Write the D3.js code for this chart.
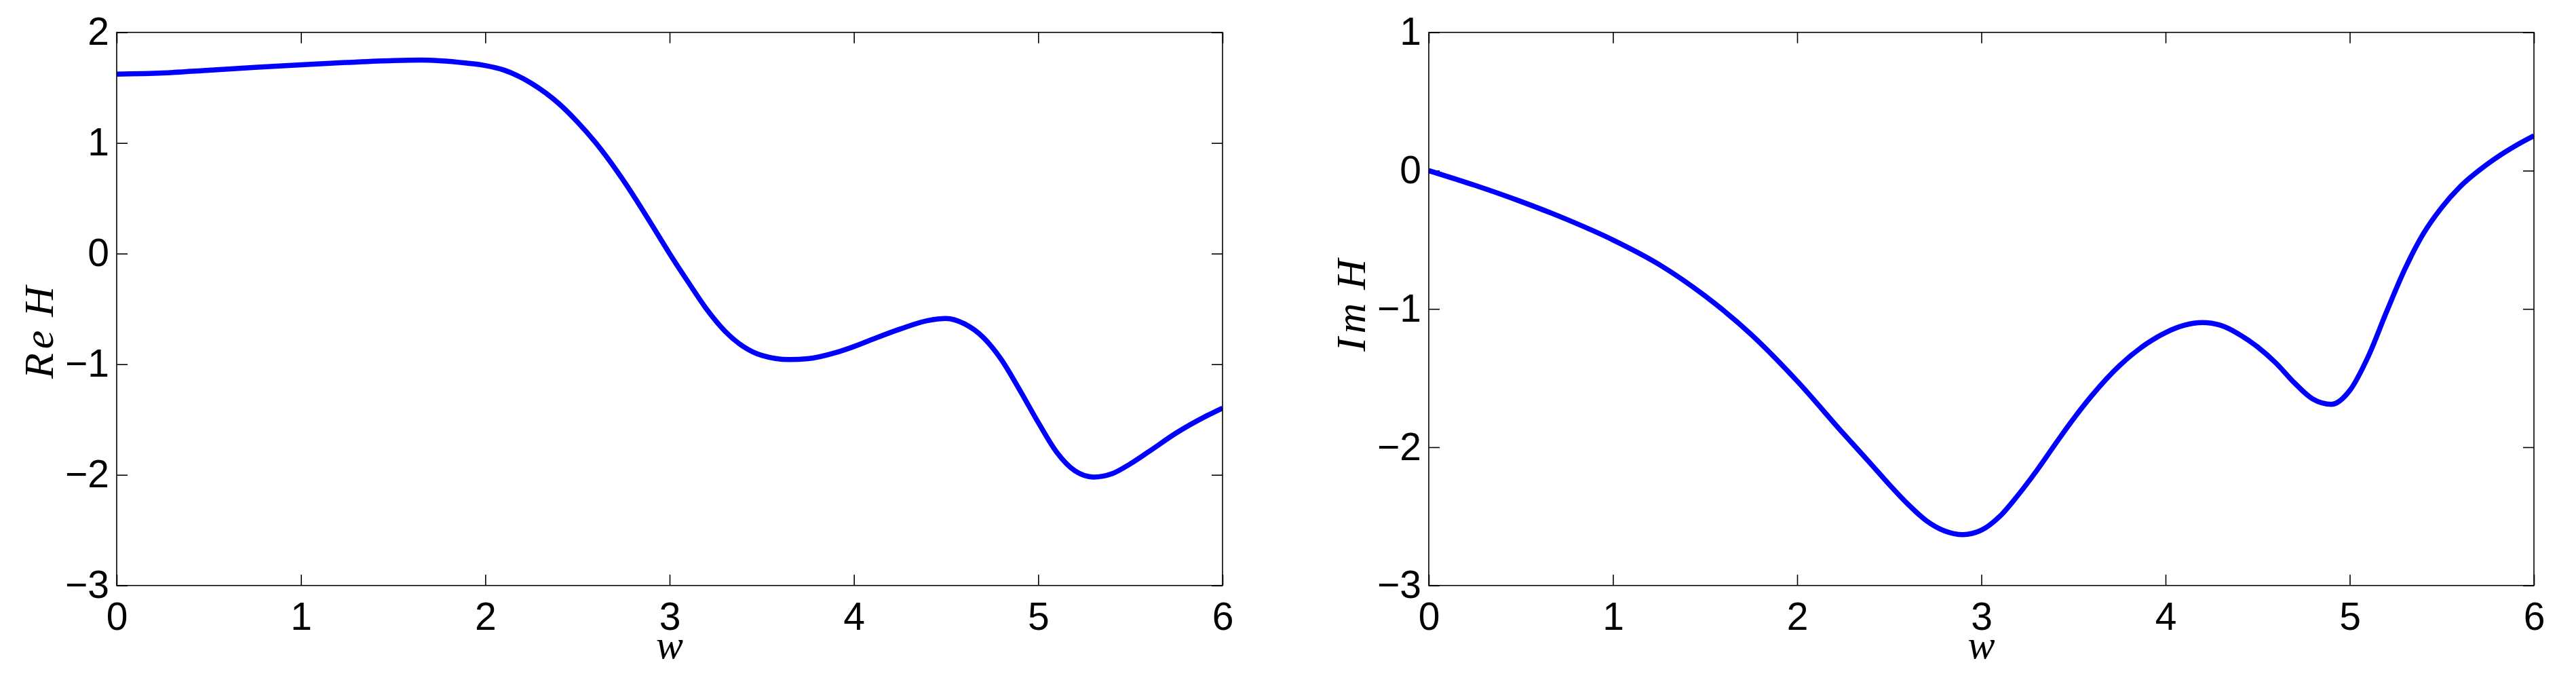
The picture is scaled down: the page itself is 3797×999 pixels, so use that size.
<!DOCTYPE html>
<html>
<head>
<meta charset="utf-8">
<script src="https://cdn.jsdelivr.net/npm/d3@7"></script>
<style>
  html, body { margin: 0; padding: 0; background: #fff; }
  svg { display: block; }
</style>
</head>
<body>
<svg id="chart" width="3797" height="999"></svg>
<script>
// ---- data ----
const wRe = [0, 0.25, 0.5, 0.75, 1.0, 1.25, 1.5, 1.65, 1.75, 1.9, 2.0, 2.1, 2.25, 2.4, 2.5, 2.6, 2.75, 2.9, 3.0,
             3.1, 3.2, 3.3, 3.4, 3.5, 3.65, 3.75, 3.9, 4.0, 4.1, 4.25, 4.4, 4.5, 4.6, 4.7, 4.8, 4.9, 5.0,
             5.1, 5.2, 5.3, 5.4, 5.5, 5.6, 5.75, 5.9, 6.0];
const reH = [1.623, 1.633, 1.658, 1.684, 1.707, 1.728, 1.745, 1.749, 1.744, 1.722, 1.70, 1.66, 1.54, 1.355, 1.19, 1.0, 0.66, 0.27, 0.0,
             -0.255, -0.50, -0.70, -0.84, -0.92, -0.958, -0.95, -0.895, -0.84, -0.775, -0.682, -0.605, -0.586, -0.635, -0.755, -0.958, -1.234, -1.526,
             -1.795, -1.965, -2.02, -1.99, -1.90, -1.79, -1.62, -1.478, -1.396];

const wIm = [0, 0.25, 0.5, 0.75, 1.0, 1.25, 1.5, 1.75, 2.0, 2.25, 2.4, 2.5, 2.6, 2.7, 2.8, 2.9, 3.0,
             3.1, 3.2, 3.3, 3.4, 3.5, 3.6, 3.75, 3.9, 4.0, 4.1, 4.2, 4.3, 4.4, 4.5, 4.6, 4.7, 4.8, 4.9, 5.0,
             5.1, 5.2, 5.3, 5.4, 5.5, 5.6, 5.75, 5.9, 6.0];
const imH = [0.0, -0.106, -0.223, -0.353, -0.501, -0.678, -0.906, -1.184, -1.522, -1.90, -2.12, -2.27, -2.41, -2.53, -2.605, -2.632, -2.60,
             -2.50, -2.345, -2.17, -1.98, -1.795, -1.626, -1.41, -1.249, -1.171, -1.119, -1.099, -1.119, -1.184, -1.275, -1.392, -1.535, -1.652, -1.69, -1.59,
             -1.345, -1.02, -0.71, -0.455, -0.265, -0.115, 0.05, 0.18, 0.252];

const xTicks = [0, 1, 2, 3, 4, 5, 6];
const reTicks = [-3, -2, -1, 0, 1, 2];
const imTicks = [-3, -2, -1, 0, 1];
const xLabel = "w";
const reLabel = ["Re", "H"];
const imLabel = ["Im", "H"];

// ---- drawing ----
const svg = d3.select("#chart");
const plotTop = 47.7, plotBottom = 862.7;
const tickLen = 16;
const tickFont = "'Liberation Sans', Arial, Helvetica, sans-serif";
const labelFont = "'Liberation Serif'";

function panel(left, right, yDomain, yTicks, xs, ys, ylab, labelCy) {
  const x = d3.scaleLinear().domain([0, 6]).range([left, right]);
  const y = d3.scaleLinear().domain(yDomain).range([plotBottom, plotTop]);
  const g = svg.append("g");

  const styleAxis = sel => {
    sel.select(".domain").remove();
    sel.selectAll("line").attr("stroke", "#000").attr("stroke-width", 1.6);
    sel.selectAll("text").attr("fill", "#000").style("font-family", tickFont).style("font-size", "57px");
  };

  g.append("g").attr("transform", `translate(0,${plotBottom})`)
    .call(d3.axisBottom(x).tickValues(xTicks).tickSize(-tickLen).tickPadding(25).tickFormat(d3.format("d")))
    .call(styleAxis);
  g.append("g").attr("transform", `translate(0,${plotTop})`)
    .call(d3.axisTop(x).tickValues(xTicks).tickSize(-tickLen).tickFormat(""))
    .call(styleAxis);
  g.append("g").attr("transform", `translate(${left},0)`)
    .call(d3.axisLeft(y).tickValues(yTicks).tickSize(-tickLen).tickPadding(11).tickFormat(d3.format("d")))
    .call(styleAxis);
  g.append("g").attr("transform", `translate(${right},0)`)
    .call(d3.axisRight(y).tickValues(yTicks).tickSize(-tickLen).tickFormat(""))
    .call(styleAxis);

  const data = xs.map((d, i) => [d, ys[i]]);
  const clipId = "clip" + Math.round(left);
  svg.append("clipPath").attr("id", clipId)
    .append("rect").attr("x", left).attr("y", plotTop - 6).attr("width", right - left).attr("height", plotBottom - plotTop + 12);
  g.append("path")
    .datum(data)
    .attr("clip-path", `url(#${clipId})`)
    .attr("fill", "none")
    .attr("stroke", "#0000ff")
    .attr("stroke-width", 7.5)
    .attr("stroke-linejoin", "round")
    .attr("d", d3.line().x(d => x(d[0])).y(d => y(d[1])).curve(d3.curveMonotoneX));

  g.append("rect")
    .attr("x", left).attr("y", plotTop).attr("width", right - left).attr("height", plotBottom - plotTop)
    .attr("fill", "none").attr("stroke", "#000").attr("stroke-width", 1.6);

  g.append("text")
    .attr("x", x(3)).attr("y", 970)
    .attr("text-anchor", "middle")
    .style("font-family", labelFont).style("font-style", "italic").style("font-size", "60px")
    .text(xLabel);

  const cx = left - 94;
  const t = g.append("text")
    .attr("transform", `translate(${cx},${labelCy}) rotate(-90)`)
    .attr("text-anchor", "middle")
    .style("font-family", labelFont).style("font-style", "italic").style("font-size", "62px");
  t.append("tspan").style("letter-spacing", "6px").text(ylab[0]);
  t.append("tspan").attr("dx", 14).text(ylab[1]);
}

panel(172, 1802, [-3, 2], reTicks, wRe, reH, reLabel, 490);
panel(2106, 3735, [-3, 1], imTicks, wIm, imH, imLabel, 450);
</script>
</body>
</html>
